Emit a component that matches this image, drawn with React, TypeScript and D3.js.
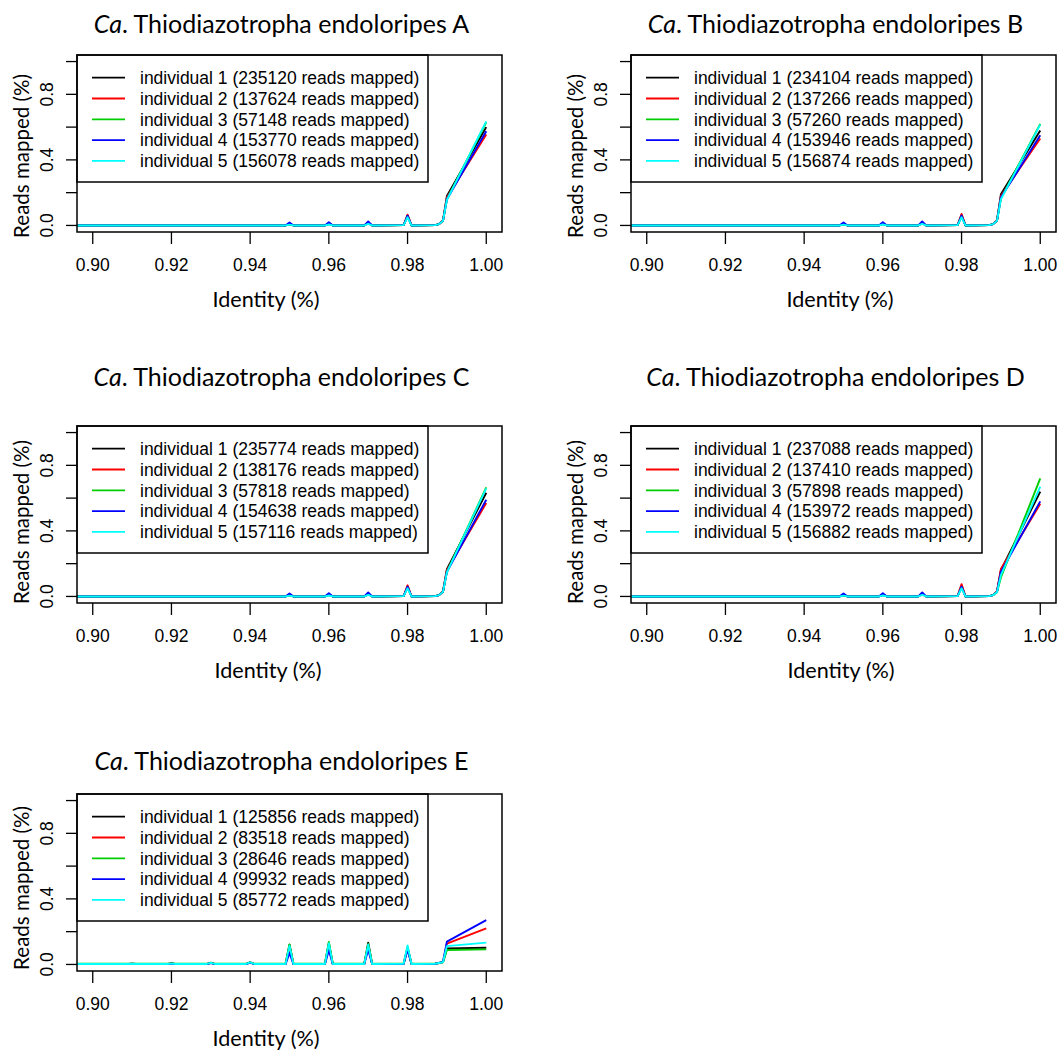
import React from "react";
import * as d3 from "d3";

// identity grid (only the points where something happens; lines are straight in between)
const identity = [
  0.89, 0.909, 0.91, 0.911, 0.919, 0.92, 0.921, 0.929, 0.93, 0.931, 0.939, 0.94, 0.941,
  0.949, 0.95, 0.951, 0.959, 0.96, 0.961, 0.969, 0.97, 0.971, 0.979, 0.98, 0.981,
  0.987, 0.988, 0.989, 0.99, 1.0,
];

const strains = ["A", "B", "C", "D", "E"];
const seriesColors = ["#000000", "#FF0000", "#00CD00", "#0000FF", "#00FFFF"];

const readsA = [235120, 137624, 57148, 153770, 156078];
const readsB = [234104, 137266, 57260, 153946, 156874];
const readsC = [235774, 138176, 57818, 154638, 157116];
const readsD = [237088, 137410, 57898, 153972, 156882];
const readsE = [125856, 83518, 28646, 99932, 85772];

const z13 = [0, 0, 0, 0, 0, 0, 0, 0, 0, 0, 0, 0, 0];

const mappedA = [
  [...z13, 0, 0.008, 0, 0, 0.010, 0, 0, 0.015, 0, 0.002, 0.060, 0, 0.002, 0.008, 0.030, 0.180, 0.600],
  [...z13, 0, 0.010, 0, 0, 0.012, 0, 0, 0.017, 0, 0.002, 0.066, 0, 0.002, 0.008, 0.030, 0.170, 0.555],
  [...z13, 0, 0.006, 0, 0, 0.008, 0, 0, 0.012, 0, 0.002, 0.055, 0, 0.002, 0.008, 0.028, 0.160, 0.630],
  [...z13, 0, 0.018, 0, 0, 0.020, 0, 0, 0.024, 0, 0.002, 0.060, 0, 0.002, 0.008, 0.028, 0.160, 0.575],
  [...z13, 0, 0.005, 0, 0, 0.006, 0, 0, 0.010, 0, 0.002, 0.050, 0, 0.002, 0.008, 0.028, 0.155, 0.635],
];
const mappedB = [
  [...z13, 0, 0.008, 0, 0, 0.010, 0, 0, 0.015, 0, 0.002, 0.065, 0, 0.002, 0.008, 0.030, 0.190, 0.580],
  [...z13, 0, 0.010, 0, 0, 0.012, 0, 0, 0.017, 0, 0.002, 0.070, 0, 0.002, 0.008, 0.030, 0.180, 0.530],
  [...z13, 0, 0.006, 0, 0, 0.008, 0, 0, 0.012, 0, 0.002, 0.055, 0, 0.002, 0.008, 0.028, 0.165, 0.620],
  [...z13, 0, 0.018, 0, 0, 0.020, 0, 0, 0.024, 0, 0.002, 0.060, 0, 0.002, 0.008, 0.028, 0.170, 0.550],
  [...z13, 0, 0.005, 0, 0, 0.006, 0, 0, 0.010, 0, 0.002, 0.050, 0, 0.002, 0.008, 0.028, 0.160, 0.615],
];
const mappedC = [
  [...z13, 0, 0.008, 0, 0, 0.010, 0, 0, 0.015, 0, 0.002, 0.062, 0, 0.002, 0.008, 0.030, 0.167, 0.633],
  [...z13, 0, 0.010, 0, 0, 0.012, 0, 0, 0.017, 0, 0.002, 0.068, 0, 0.002, 0.008, 0.030, 0.160, 0.570],
  [...z13, 0, 0.006, 0, 0, 0.008, 0, 0, 0.012, 0, 0.002, 0.055, 0, 0.002, 0.008, 0.028, 0.150, 0.665],
  [...z13, 0, 0.018, 0, 0, 0.020, 0, 0, 0.024, 0, 0.002, 0.060, 0, 0.002, 0.008, 0.028, 0.150, 0.590],
  [...z13, 0, 0.005, 0, 0, 0.006, 0, 0, 0.010, 0, 0.002, 0.050, 0, 0.002, 0.008, 0.028, 0.147, 0.660],
];
const mappedD = [
  [...z13, 0, 0.008, 0, 0, 0.010, 0, 0, 0.015, 0, 0.002, 0.065, 0, 0.002, 0.008, 0.030, 0.160, 0.640],
  [...z13, 0, 0.010, 0, 0, 0.012, 0, 0, 0.017, 0, 0.002, 0.075, 0, 0.002, 0.008, 0.030, 0.167, 0.565],
  [...z13, 0, 0.006, 0, 0, 0.008, 0, 0, 0.012, 0, 0.002, 0.055, 0, 0.002, 0.008, 0.025, 0.116, 0.720],
  [...z13, 0, 0.018, 0, 0, 0.020, 0, 0, 0.024, 0, 0.002, 0.060, 0, 0.002, 0.008, 0.028, 0.150, 0.580],
  [...z13, 0, 0.005, 0, 0, 0.006, 0, 0, 0.010, 0, 0.002, 0.050, 0, 0.002, 0.008, 0.026, 0.130, 0.670],
];
const mappedE = [
  [0.003, 0.003, 0.004, 0.003, 0.003, 0.006, 0.003, 0.003, 0.010, 0.003, 0.003, 0.012, 0.003, 0.003, 0.120, 0.003, 0.003, 0.130, 0.003, 0.003, 0.133, 0.003, 0.004, 0.100, 0.003, 0.004, 0.009, 0.014, 0.098, 0.102],
  [0.003, 0.003, 0.004, 0.003, 0.003, 0.005, 0.003, 0.003, 0.010, 0.003, 0.003, 0.012, 0.003, 0.003, 0.110, 0.003, 0.003, 0.120, 0.003, 0.003, 0.110, 0.003, 0.004, 0.100, 0.003, 0.004, 0.009, 0.014, 0.127, 0.220],
  [0.004, 0.004, 0.005, 0.004, 0.004, 0.006, 0.004, 0.004, 0.011, 0.004, 0.004, 0.013, 0.004, 0.004, 0.122, 0.004, 0.004, 0.137, 0.004, 0.004, 0.125, 0.004, 0.005, 0.105, 0.004, 0.005, 0.009, 0.013, 0.088, 0.092],
  [0.002, 0.002, 0.003, 0.002, 0.002, 0.004, 0.002, 0.002, 0.008, 0.002, 0.002, 0.011, 0.002, 0.002, 0.070, 0.002, 0.002, 0.086, 0.002, 0.002, 0.090, 0.002, 0.003, 0.090, 0.002, 0.004, 0.010, 0.016, 0.139, 0.270],
  [0.003, 0.003, 0.004, 0.003, 0.003, 0.005, 0.003, 0.003, 0.010, 0.003, 0.003, 0.013, 0.003, 0.003, 0.115, 0.003, 0.003, 0.130, 0.003, 0.003, 0.120, 0.003, 0.004, 0.116, 0.003, 0.004, 0.009, 0.014, 0.112, 0.133],
];

const xTicks = [0.9, 0.92, 0.94, 0.96, 0.98, 1.0];
const yTicks = [0, 0.2, 0.4, 0.6, 0.8, 1.0];
const yLabelled = [0, 0.4, 0.8];

// panel placement (pixels)
const layout = [
  { left: 77, top: 55, titleDy: -22, xlabDx: 189, ylabDy: 101 },
  { left: 631, top: 55, titleDy: -22, xlabDx: 209, ylabDy: 101 },
  { left: 77, top: 426, titleDy: -40, xlabDx: 191, ylabDy: 96 },
  { left: 631, top: 426, titleDy: -40, xlabDx: 210, ylabDy: 96 },
  { left: 77, top: 794, titleDy: -24, xlabDx: 189, ylabDy: 94 },
];

const allReads = [readsA, readsB, readsC, readsD, readsE];
const allMapped = [mappedA, mappedB, mappedC, mappedD, mappedE];

const W = 425;
const H = 177;
const humanist = "Lato, 'Open Sans', sans-serif";
const arial = "'Liberation Sans', Arial, sans-serif";

const Panel = ({ idx }: { idx: number }) => {
  const lay = layout[idx];
  const reads = allReads[idx];
  const mapped = allMapped[idx];
  const x = d3.scaleLinear().domain([0.896, 1.004]).range([0, W]);
  const y = d3.scaleLinear().domain([-0.04, 1.04]).range([H, 0]);
  const line = d3
    .line<number>()
    .x((_, i) => x(identity[i]))
    .y((d) => y(d));
  const clipId = `clip-${idx}`;
  return (
    <g transform={`translate(${lay.left},${lay.top})`}>
      <text
        x={204.5}
        y={lay.titleDy}
        textAnchor="middle"
        fontFamily={humanist}
        fontSize={25}
      >
        <tspan fontStyle="italic">Ca</tspan>. Thiodiazotropha endoloripes {strains[idx]}
      </text>
      <defs>
        <clipPath id={clipId}>
          <rect x={0} y={0} width={W} height={H} />
        </clipPath>
      </defs>
      <g clipPath={`url(#${clipId})`}>
        {mapped.map((s, i) => (
          <path
            key={i}
            d={line(s) || ""}
            fill="none"
            stroke={seriesColors[i]}
            strokeWidth={1.9}
            strokeLinejoin="round"
          />
        ))}
      </g>
      {/* legend */}
      <rect x={0} y={0} width={351} height={127} fill="#fff" stroke="#000" strokeWidth={1.5} />
      {reads.map((r, i) => {
        const ly = 22.7 + i * 20.8;
        return (
          <g key={i}>
            <line x1={15} x2={48} y1={ly} y2={ly} stroke={seriesColors[i]} strokeWidth={1.8} />
            <text x={63} y={ly} dy="0.36em" fontFamily={arial} fontSize={17.5}>
              {`individual ${i + 1} (${r} reads mapped)`}
            </text>
          </g>
        );
      })}
      <rect x={0} y={0} width={W} height={H} fill="none" stroke="#000" strokeWidth={1.5} />
      {/* x axis */}
      {xTicks.map((t) => (
        <g key={t} transform={`translate(${x(t)},${H})`}>
          <line y1={0} y2={12} stroke="#000" strokeWidth={1.3} />
          <text y={38.5} textAnchor="middle" fontFamily={arial} fontSize={17.5}>
            {d3.format(".2f")(t)}
          </text>
        </g>
      ))}
      {/* y axis */}
      {yTicks.map((t) => (
        <line key={t} x1={-11} x2={0} y1={y(t)} y2={y(t)} stroke="#000" strokeWidth={1.3} />
      ))}
      {yLabelled.map((t) => (
        <text
          key={t}
          transform={`translate(-23.7,${y(t)}) rotate(-90)`}
          textAnchor="middle"
          fontFamily={arial}
          fontSize={17.5}
        >
          {d3.format(".1f")(t)}
        </text>
      ))}
      <text x={lay.xlabDx} y={H + 75} textAnchor="middle" fontFamily={humanist} fontSize={21.6}>
        Identity (%)
      </text>
      <text
        transform={`translate(-48,${lay.ylabDy}) rotate(-90)`}
        textAnchor="middle"
        fontFamily={humanist}
        fontSize={20.5}
      >
        Reads mapped (%)
      </text>
    </g>
  );
};

export default function App() {
  return (
    <svg
      width={1058}
      height={1053}
      style={{ position: "absolute", left: 0, top: 0, background: "#fff" }}
    >
      <rect width={1058} height={1053} fill="#fff" />
      {strains.map((_, i) => (
        <Panel key={i} idx={i} />
      ))}
    </svg>
  );
}
